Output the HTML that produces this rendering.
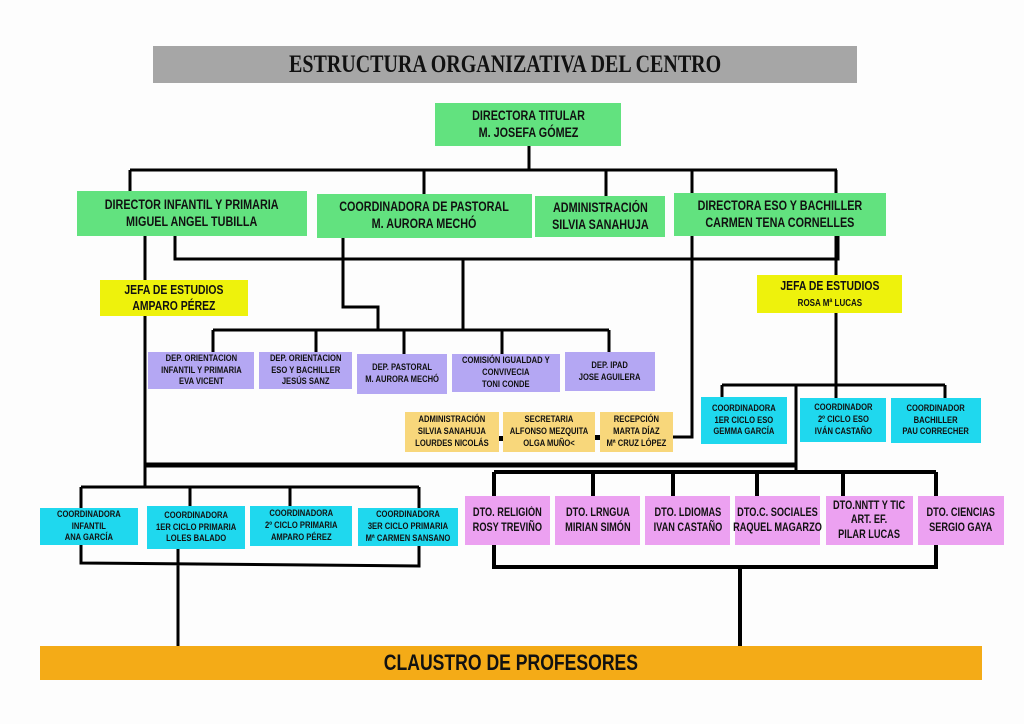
<!DOCTYPE html>
<html><head><meta charset="utf-8"><style>
body{margin:0;width:1024px;height:724px;background:#fdfdfd;position:relative;overflow:hidden;font-family:"Liberation Sans",sans-serif;font-weight:bold;color:#111}
.b{position:absolute;display:flex;flex-direction:column;justify-content:center;align-items:center;text-align:center;line-height:1.25;white-space:nowrap}
.b>span{display:inline-block;transform:scaleX(.8)}
.g{background:#62e27f;font-size:13.5px}
.y{background:#eef20c;font-size:13px}
.p{background:#b4a7f3;font-size:9.5px}
.o{background:#f8d77b;font-size:9.5px}
.c{background:#1fd8ee;font-size:9.5px}
.k{background:#eca1f1;font-size:11.5px}
svg{position:absolute;left:0;top:0}
</style></head><body>
<svg width="1024" height="724" stroke="#000" fill="none" stroke-width="3">
<path d="M529 146V170M130 170H837M130 170V191M424 170V194M606 170V196M692 170V437H673M836 170V193"/>
<path d="M175 236V259H838V236M463 259V330"/>
<path d="M145 236V487M343 238V307H378V330M213 330H609M213 330V352M316 330V352M404 330V354M502 330V354M609 330V352"/>
<path d="M836 236V275M836 313V385M722 385H945M722 385V397M836 385V398M945 385V398M796 385V472"/>
<path d="M145 465H796" stroke-width="5"/>
<path d="M81 487H419M81 487V508M190 487V506M290 487V506M419 487V508M81 545V563L419 566V546M178 548V647"/>
<path d="M494 472H936M494 472V496M593 472V496M673 472V496M757 472V496M843 472V496M936 472V496M494 545V567H936V545M740 567V646" stroke-width="4"/>
<rect x="498" y="436" width="5" height="5" fill="#000" stroke="none"/><rect x="595" y="435" width="5" height="5" fill="#000" stroke="none"/>
</svg>
<div class="b" style="left:153px;top:46px;width:704px;height:37px;background:#a6a6a6;font-size:25px;font-family:'Liberation Serif',serif"><span>ESTRUCTURA ORGANIZATIVA DEL CENTRO</span></div>
<div class="b g" style="left:435px;top:103px;width:186px;height:43px"><span>DIRECTORA TITULAR<br>M. JOSEFA GÓMEZ</span></div>
<div class="b g" style="left:77px;top:191px;width:230px;height:45px"><span>DIRECTOR INFANTIL Y PRIMARIA<br>MIGUEL ANGEL TUBILLA</span></div>
<div class="b g" style="left:317px;top:194px;width:215px;height:44px"><span>COORDINADORA DE PASTORAL<br>M. AURORA MECHÓ</span></div>
<div class="b g" style="left:535px;top:196px;width:130px;height:41px"><span>ADMINISTRACIÓN<br>SILVIA SANAHUJA</span></div>
<div class="b g" style="left:674px;top:193px;width:212px;height:43px"><span>DIRECTORA ESO Y BACHILLER<br>CARMEN TENA CORNELLES</span></div>
<div class="b y" style="left:100px;top:280px;width:148px;height:36px"><span>JEFA DE ESTUDIOS<br>AMPARO PÉREZ</span></div>
<div class="b y" style="left:757px;top:275px;width:145px;height:38px"><span>JEFA DE ESTUDIOS<br><span style="font-size:10px">ROSA Mª LUCAS</span></span></div>
<div class="b p" style="left:148px;top:352px;width:106px;height:37px"><span>DEP. ORIENTACION<br>INFANTIL Y PRIMARIA<br>EVA VICENT</span></div>
<div class="b p" style="left:259px;top:352px;width:93px;height:37px"><span>DEP. ORIENTACION<br>ESO Y BACHILLER<br>JESÚS SANZ</span></div>
<div class="b p" style="left:357px;top:354px;width:90px;height:40px"><span>DEP. PASTORAL<br>M. AURORA MECHÓ</span></div>
<div class="b p" style="left:452px;top:354px;width:108px;height:38px"><span>COMISIÓN IGUALDAD Y<br>CONVIVECIA<br>TONI CONDE</span></div>
<div class="b p" style="left:565px;top:352px;width:90px;height:39px"><span>DEP. IPAD<br>JOSE AGUILERA</span></div>
<div class="b o" style="left:405px;top:412px;width:94px;height:40px"><span>ADMINISTRACIÓN<br>SILVIA SANAHUJA<br>LOURDES NICOLÁS</span></div>
<div class="b o" style="left:503px;top:412px;width:92px;height:40px"><span>SECRETARIA<br>ALFONSO MEZQUITA<br>OLGA MUÑO&lt;</span></div>
<div class="b o" style="left:600px;top:412px;width:73px;height:40px"><span>RECEPCIÓN<br>MARTA DÍAZ<br>Mª CRUZ LÓPEZ</span></div>
<div class="b c" style="left:701px;top:397px;width:86px;height:47px"><span>COORDINADORA<br>1ER CICLO ESO<br>GEMMA GARCÍA</span></div>
<div class="b c" style="left:800px;top:398px;width:86px;height:44px"><span>COORDINADOR<br>2º CICLO ESO<br>IVÁN CASTAÑO</span></div>
<div class="b c" style="left:891px;top:398px;width:90px;height:45px"><span>COORDINADOR<br>BACHILLER<br>PAU CORRECHER</span></div>
<div class="b c" style="left:40px;top:508px;width:98px;height:37px"><span>COORDINADORA<br>INFANTIL<br>ANA GARCÍA</span></div>
<div class="b c" style="left:147px;top:506px;width:98px;height:43px"><span>COORDINADORA<br>1ER CICLO PRIMARIA<br>LOLES BALADO</span></div>
<div class="b c" style="left:250px;top:506px;width:102px;height:40px"><span>COORDINADORA<br>2º CICLO PRIMARIA<br>AMPARO PÉREZ</span></div>
<div class="b c" style="left:358px;top:508px;width:100px;height:38px"><span>COORDINADORA<br>3ER CICLO PRIMARIA<br>Mª CARMEN SANSANO</span></div>
<div class="b k" style="left:465px;top:496px;width:85px;height:49px"><span>DTO. RELIGIÓN<br>ROSY TREVIÑO</span></div>
<div class="b k" style="left:555px;top:496px;width:85px;height:49px"><span>DTO. LRNGUA<br>MIRIAN SIMÓN</span></div>
<div class="b k" style="left:645px;top:496px;width:85px;height:49px"><span>DTO. LDIOMAS<br>IVAN CASTAÑO</span></div>
<div class="b k" style="left:735px;top:496px;width:85px;height:49px"><span>DTO.C. SOCIALES<br>RAQUEL MAGARZO</span></div>
<div class="b k" style="left:826px;top:496px;width:87px;height:49px"><span>DTO.NNTT Y TIC<br>ART. EF.<br>PILAR LUCAS</span></div>
<div class="b k" style="left:918px;top:496px;width:86px;height:49px"><span>DTO. CIENCIAS<br>SERGIO GAYA</span></div>
<div class="b" style="left:40px;top:646px;width:942px;height:34px;background:#f4ab17;font-size:22px"><span>CLAUSTRO DE PROFESORES</span></div>
</body></html>
